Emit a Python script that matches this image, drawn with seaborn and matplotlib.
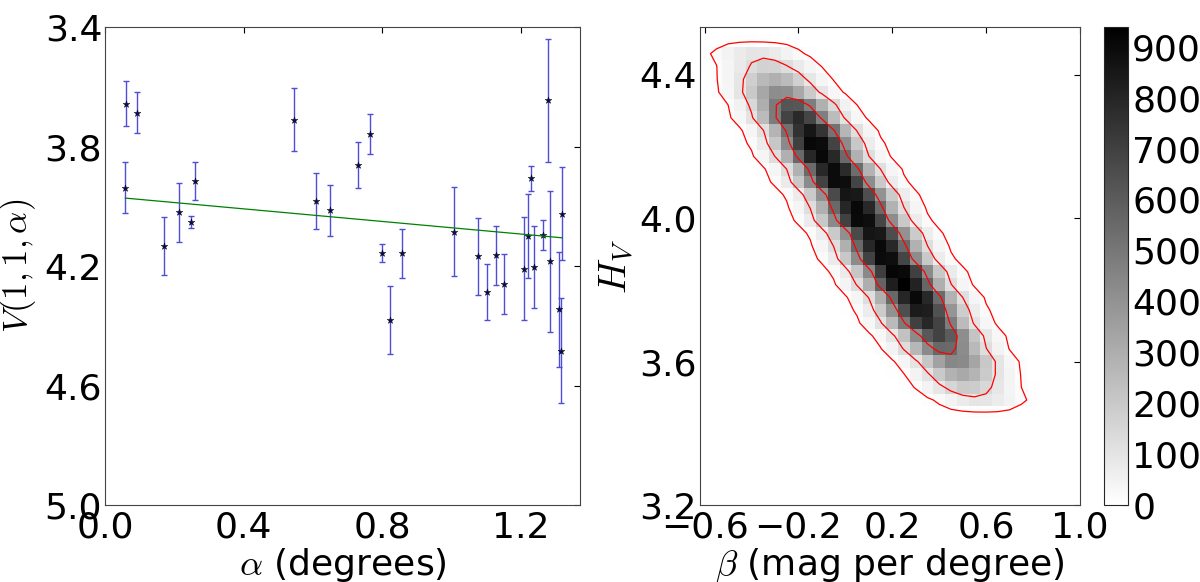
#!/usr/bin/env python3
"""
Phase curve fit (left) and H_V / beta posterior histogram (right)
"""

import numpy as np
import pandas as pd
import matplotlib
matplotlib.use('Agg')
import matplotlib.pyplot as plt
import seaborn as sns

# ---- left panel: reduced magnitude vs phase angle ----
alpha_deg = [0.061, 0.093, 0.058, 0.171, 0.215, 0.249, 0.260, 0.547, 0.609, 0.650,
             0.731, 0.766, 0.801, 0.824, 0.858, 1.006, 1.076, 1.102, 1.128, 1.151,
             1.210, 1.220, 1.229, 1.238, 1.265, 1.278, 1.285, 1.310, 1.315, 1.319]
v_mag = [3.656, 3.686, 3.937, 4.131, 4.020, 4.051, 3.915, 3.710, 3.982, 4.013,
         3.862, 3.758, 4.157, 4.381, 4.157, 4.084, 4.167, 4.286, 4.164, 4.260,
         4.208, 4.099, 3.906, 4.203, 4.096, 3.645, 4.184, 4.345, 4.483, 4.024]
v_err = [0.076, 0.068, 0.085, 0.097, 0.099, 0.020, 0.063, 0.106, 0.094, 0.085,
         0.077, 0.067, 0.030, 0.113, 0.083, 0.150, 0.128, 0.094, 0.100, 0.100,
         0.172, 0.142, 0.041, 0.137, 0.050, 0.205, 0.237, 0.193, 0.177, 0.155]

# linear fit line end points
fit_alpha = [0.058, 1.319]
fit_v = [3.972, 4.105]

# ---- right panel: 2D histogram of (beta, H_V) samples ----
beta_lo, beta_step, n_beta = -0.675, 0.05, 32
h_lo, h_step, n_h = 3.4034, 0.0358, 32

# counts per histogram row (bottom row first), each row starts at a column index
row_index = list(range(1, 31))
row_start = [21, 19, 17, 17, 16, 15, 15, 14, 13, 13,
             12, 11, 10, 10, 9, 8, 8, 7, 6, 6,
             5, 4, 4, 3, 2, 1, 1, 0, 0, 1]
row_counts = [
    [1, 3, 6, 9, 10, 9, 6, 3, 1],
    [2, 8, 22, 46, 75, 97, 95, 73, 44, 21, 8, 2],
    [1, 5, 17, 45, 94, 152, 196, 190, 146, 89, 42, 15, 4, 1],
    [4, 14, 44, 104, 198, 285, 318, 278, 192, 100, 42, 13, 3],
    [2, 10, 37, 101, 210, 342, 440, 430, 332, 203, 97, 35, 10, 2],
    [3, 13, 47, 128, 266, 432, 556, 548, 422, 258, 123, 45, 13, 3],
    [8, 31, 95, 224, 425, 612, 695, 600, 415, 218, 91, 30, 8],
    [9, 35, 108, 256, 486, 700, 794, 690, 478, 250, 105, 34, 9],
    [4, 20, 70, 192, 400, 650, 838, 828, 640, 392, 186, 68, 20, 4],
    [10, 40, 124, 292, 555, 798, 905, 788, 544, 285, 120, 39, 10],
    [10, 41, 127, 300, 572, 825, 938, 812, 562, 295, 124, 40, 10],
    [5, 22, 76, 210, 436, 710, 915, 905, 700, 428, 205, 74, 22, 5],
    [5, 21, 74, 204, 428, 695, 896, 886, 684, 420, 200, 73, 21, 5],
    [10, 40, 122, 290, 552, 795, 904, 790, 546, 286, 121, 39, 10],
    [4, 20, 71, 196, 408, 664, 858, 848, 655, 402, 192, 69, 20, 4],
    [5, 21, 75, 205, 430, 698, 900, 884, 682, 418, 199, 72, 21, 5],
    [10, 40, 123, 291, 553, 796, 906, 789, 545, 285, 120, 39, 10],
    [4, 20, 71, 197, 410, 666, 860, 846, 652, 400, 191, 69, 20, 4],
    [5, 21, 74, 204, 428, 696, 895, 888, 686, 421, 201, 73, 21, 5],
    [10, 39, 121, 287, 547, 788, 895, 778, 538, 282, 119, 39, 10],
    [10, 40, 122, 290, 551, 795, 906, 790, 547, 287, 121, 40, 10],
    [5, 21, 75, 207, 432, 702, 906, 896, 692, 424, 203, 73, 21, 5],
    [9, 38, 116, 275, 522, 752, 855, 744, 515, 270, 114, 37, 9],
    [9, 34, 106, 252, 480, 690, 784, 682, 472, 248, 104, 34, 9],
    [3, 15, 52, 143, 297, 484, 624, 616, 476, 291, 140, 50, 15, 3],
    [2, 10, 35, 96, 200, 326, 420, 414, 320, 196, 94, 34, 10, 2],
    [3, 13, 40, 94, 179, 257, 292, 252, 175, 92, 39, 13, 3],
    [1, 4, 14, 38, 79, 129, 166, 163, 126, 77, 37, 14, 4, 1],
    [2, 8, 22, 47, 76, 98, 95, 74, 45, 22, 8, 2, 1],
    [1, 3, 5, 7, 8, 7, 5, 3, 1],
]
contour_levels = [15, 120, 500]
cbar_ticks = list(range(0, 1000, 100))


def build_grid():
    """Put the row lists into a full count grid (rows = H_V, cols = beta)"""
    grid = np.zeros((n_h, n_beta))
    for i, start, vals in zip(row_index, row_start, row_counts):
        grid[i, start:start + len(vals)] = vals
    beta_edges = beta_lo + beta_step * np.arange(n_beta + 1)
    h_edges = h_lo + h_step * np.arange(n_h + 1)
    return grid, beta_edges, h_edges


def style_axes(ax):
    ax.tick_params(which='both', direction='in', top=True, right=True,
                   length=4, width=0.8, labelsize=26, color='k',
                   labelcolor='k')
    ax.tick_params(axis='x', pad=4)
    ax.tick_params(axis='y', pad=2)
    for s in ax.spines.values():
        s.set_color('#444444')
        s.set_linewidth(0.8)


def main():
    sns.set_style('white')
    plt.rcParams['font.family'] = ['DejaVu Sans']
    plt.rcParams['mathtext.fontset'] = 'cm'
    plt.rcParams['text.color'] = 'k'
    plt.rcParams['axes.labelcolor'] = 'k'

    fig = plt.figure(figsize=(12, 5.82), dpi=100)
    bottom, height = 0.1323, 0.8208
    ax1 = fig.add_axes([0.0875, bottom, 0.3958, height])
    ax2 = fig.add_axes([0.5833, bottom, 0.3167, height])
    cax = fig.add_axes([0.92, bottom, 0.02, height])

    # left panel
    df = pd.DataFrame({'alpha': alpha_deg, 'V': v_mag, 'err': v_err})
    ax1.errorbar(df['alpha'], df['V'], yerr=df['err'], fmt='none',
                 ecolor=(0.3, 0.3, 0.85), elinewidth=1.0, capsize=2.5,
                 capthick=1.0, zorder=2)
    sns.scatterplot(data=df, x='alpha', y='V', marker='*', s=26,
                    color='#0c0c50', edgecolor='k', linewidth=0.3,
                    ax=ax1, zorder=3)
    sns.lineplot(x=fit_alpha, y=fit_v, color='green', linewidth=0.9,
                 ax=ax1, zorder=4)
    ax1.set_xlim(0.0, 1.371)
    ax1.set_ylim(5.0, 3.4)
    ax1.set_xticks([0.0, 0.4, 0.8, 1.2])
    ax1.set_yticks([3.4, 3.8, 4.2, 4.6, 5.0])
    ax1.set_xlabel(r'$\alpha$ (degrees)', fontsize=26, labelpad=1)
    ax1.set_ylabel(r'$V(1,1,\alpha)$', fontsize=25, labelpad=5)
    style_axes(ax1)

    # right panel
    grid, beta_edges, h_edges = build_grid()
    beta_c = 0.5 * (beta_edges[:-1] + beta_edges[1:])
    h_c = 0.5 * (h_edges[:-1] + h_edges[1:])
    bb, hh = np.meshgrid(beta_c, h_c)
    mask = grid > 0
    hist_df = pd.DataFrame({'beta': bb[mask], 'H': hh[mask], 'count': grid[mask]})

    sns.histplot(data=hist_df, x='beta', y='H', weights='count',
                 bins=[beta_edges, h_edges], cmap='gray_r',
                 vmin=0, vmax=hist_df['count'].max(),
                 cbar=True, cbar_ax=cax, cbar_kws={'ticks': cbar_ticks},
                 ax=ax2)
    ax2.contour(beta_c, h_c, grid, levels=contour_levels, colors='red',
                linewidths=0.9)
    ax2.set_xlim(-0.62, 1.0)
    ax2.set_ylim(3.2, 4.533)
    ax2.set_xticks([-0.6, -0.2, 0.2, 0.6, 1.0])
    ax2.set_yticks([3.2, 3.6, 4.0, 4.4])
    ax2.set_xlabel(r'$\beta$ (mag per degree)', fontsize=26, labelpad=1)
    ax2.set_ylabel(r'$H_V$', fontsize=28, labelpad=3)
    style_axes(ax2)

    cax.tick_params(labelsize=26, direction='in', length=4, color='k',
                    labelcolor='k', pad=3)
    for s in cax.spines.values():
        s.set_linewidth(0.8)

    fig.savefig('out.png', dpi=100)
    plt.close(fig)


if __name__ == "__main__":
    main()
